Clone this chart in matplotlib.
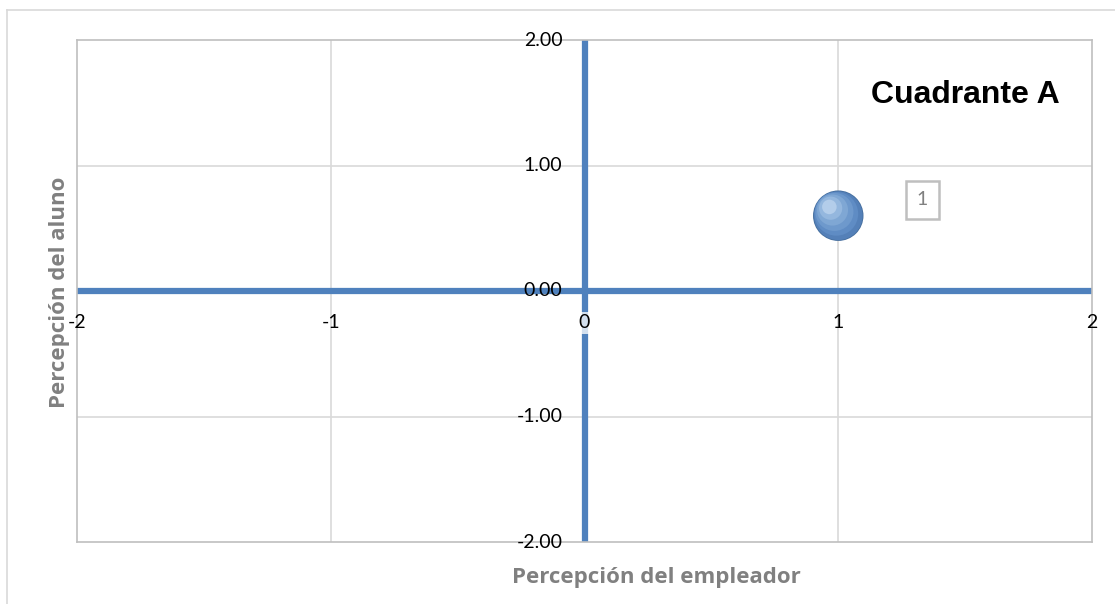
import matplotlib.pyplot as plt
from matplotlib.lines import Line2D

# data
points_x = [1.0]
points_y = [0.6]
point_labels = ["1"]
x_ticks = [-2, -1, 0, 1, 2]
x_tick_labels = ["-2", "-1", "0", "1", "2"]
y_ticks = [-2, -1, 0, 1, 2]
y_tick_labels = ["-2.00", "-1.00", "0.00", "1.00", "2.00"]

blue = "#4f81bd"
grid_col = "#d9d9d9"
title_grey = "#808080"

fig = plt.figure(figsize=(11.15, 6.04), dpi=100)
ax = fig.add_axes([77 / 1115, 1 - 542 / 604, (1092 - 77) / 1115, (542 - 40) / 604])
ax.set_xlim(-2, 2)
ax.set_ylim(-2, 2)

# outer chart frame
fig.add_artist(Line2D([7 / 1115, 7 / 1115], [0, 1 - 10 / 604], color=grid_col, lw=1.2,
                      transform=fig.transFigure))
fig.add_artist(Line2D([7 / 1115, 1], [1 - 10 / 604, 1 - 10 / 604], color=grid_col, lw=1.2,
                      transform=fig.transFigure))

for s in ax.spines.values():
    s.set_color("#bfbfbf")
    s.set_linewidth(1.2)
ax.set_xticks([])
ax.set_yticks([])

for v in [-1, 1]:
    ax.axvline(v, color=grid_col, lw=1.2, zorder=1)
    ax.axhline(v, color=grid_col, lw=1.2, zorder=1)

# quadrant axes
ax.axhline(0, color=blue, lw=4.5, zorder=2)
ax.axvline(0, color=blue, lw=4.5, zorder=2)

# tick labels next to the centre axes
for v, t in zip(y_ticks, y_tick_labels):
    ax.annotate(t, (0, v), xytext=(-22, 0), textcoords="offset pixels",
                ha="right", va="center", fontsize=14, family="Lato", zorder=4,
                annotation_clip=False)
for v, t in zip(x_ticks, x_tick_labels):
    bb = None
    if v == 0:
        bb = dict(boxstyle="square,pad=0.15", fc="white", ec="none", alpha=0.75)
    ax.annotate(t, (v, 0), xytext=(0, -32), textcoords="offset pixels",
                ha="center", va="center", fontsize=14, family="Lato", zorder=4,
                bbox=bb, annotation_clip=False)

# bubble with simple shading
shades = ["#466f9f", "#5480b8", "#5f8cc4", "#6e99cc", "#7fa7d4", "#94b7de", "#b3cdea"]
sizes = [1320, 1230, 990, 750, 500, 280, 110]
offs = [0, 0, 0.015, 0.03, 0.045, 0.06, 0.07]
for c, s, o in zip(shades, sizes, offs):
    ax.scatter([x - o * 0.5 for x in points_x], [y + o for y in points_y], s=s, color=c,
               edgecolors="none", zorder=5)

for x, y, t in zip(points_x, points_y, point_labels):
    ax.annotate(t, (x, y), xytext=(84, 16), textcoords="offset pixels",
                ha="center", va="center", fontsize=14, color=title_grey, family="Lato",
                bbox=dict(boxstyle="square,pad=0.55", fc="white", ec="#bfbfbf", lw=1.8),
                zorder=6)

ax.text(1.5, 1.56, "Cuadrante A", ha="center", va="center", fontsize=23,
        fontweight="bold", family="Liberation Sans", zorder=6)

fig.text(59 / 1115, 1 - 292 / 604, "Percepción del aluno", rotation=90, ha="center",
         va="center", fontsize=16, fontweight="bold", color=title_grey, family="Open Sans")
fig.text(656 / 1115, 1 - 578 / 604, "Percepción del empleador", ha="center",
         va="center", fontsize=16, fontweight="bold", color=title_grey, family="Open Sans")

fig.savefig("out.png", dpi=100)
